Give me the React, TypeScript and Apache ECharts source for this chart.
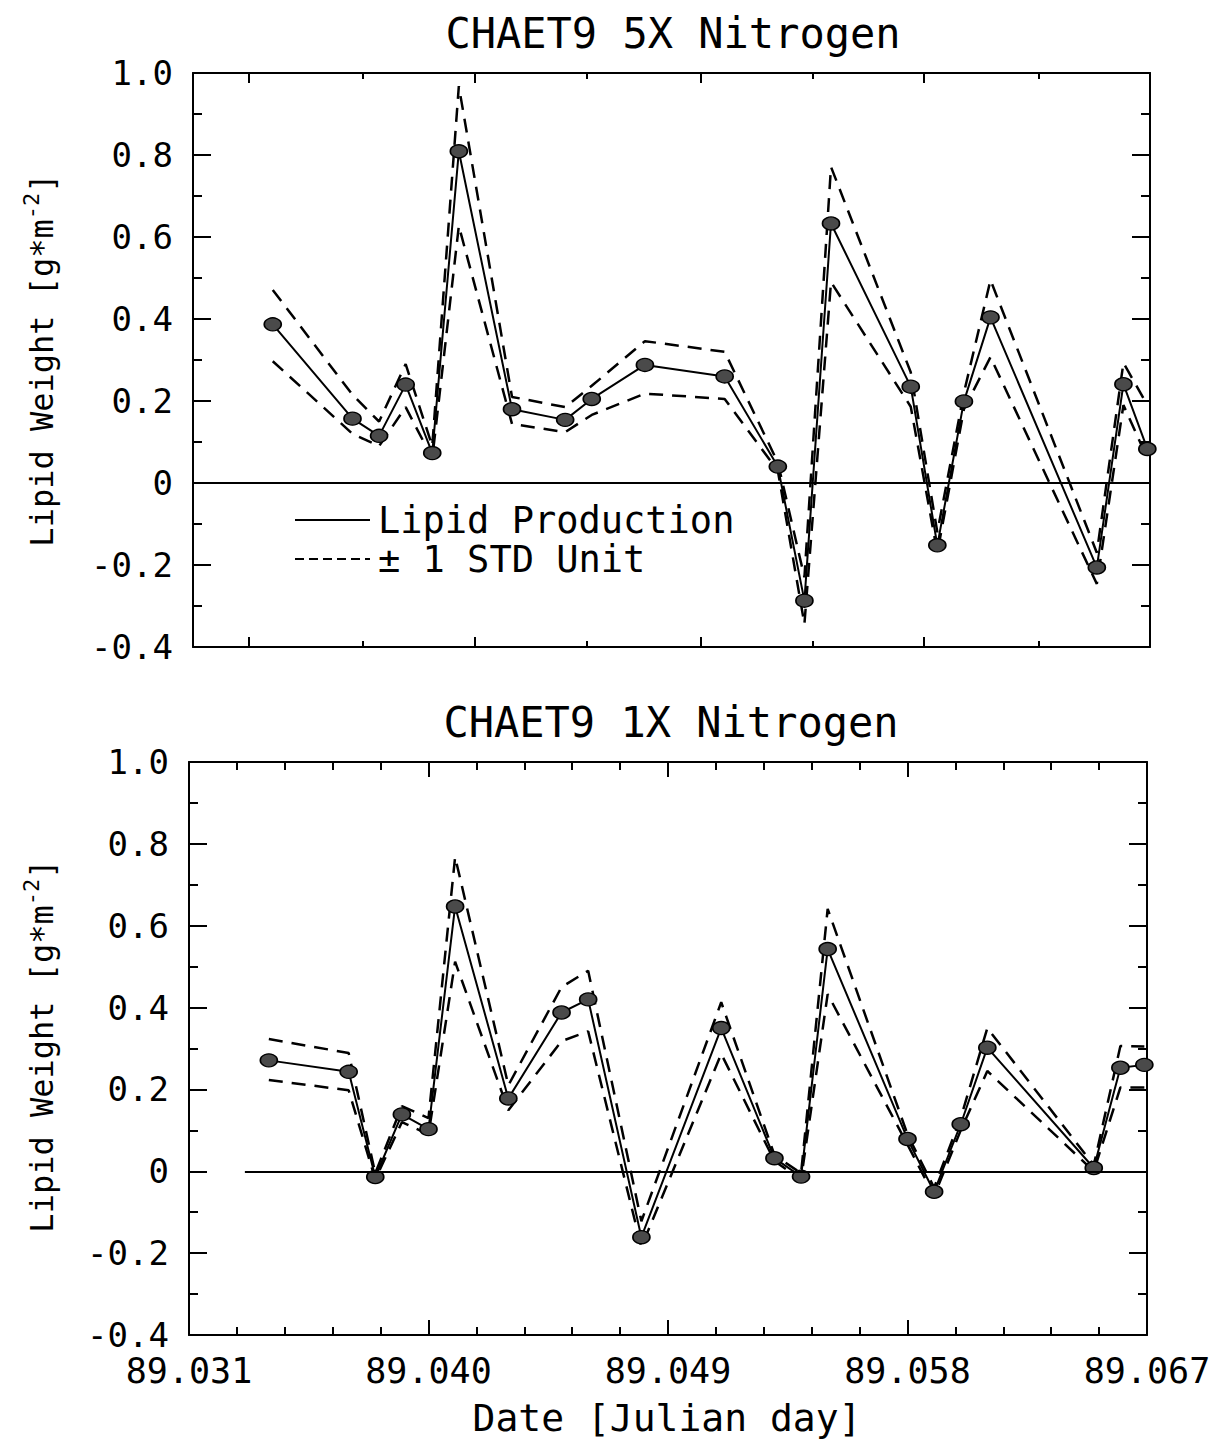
import React, { useEffect, useRef } from "react";
import * as echarts from "echarts";

// Sampling dates (Julian day), shared by both panels
const dates = [89.034, 89.037, 89.038, 89.039, 89.040, 89.041, 89.043, 89.045, 89.046, 89.048, 89.051, 89.053, 89.054, 89.055, 89.058, 89.059, 89.060, 89.061, 89.065, 89.066, 89.0669];

// CHAET9 5X Nitrogen
const lipid5x = [0.387, 0.157, 0.115, 0.24, 0.073, 0.809, 0.18, 0.154, 0.205, 0.288, 0.26, 0.04, -0.287, 0.633, 0.235, -0.152, 0.199, 0.404, -0.206, 0.241, 0.083];
const upper5x = [0.471, 0.215, 0.15, 0.29, 0.09, 0.968, 0.21, 0.185, 0.237, 0.346, 0.32, 0.05, -0.23, 0.771, 0.27, -0.12, 0.22, 0.495, -0.17, 0.293, 0.19];
const lower5x = [0.297, 0.12, 0.09, 0.185, 0.06, 0.627, 0.144, 0.124, 0.166, 0.218, 0.205, 0.03, -0.344, 0.49, 0.186, -0.17, 0.18, 0.307, -0.246, 0.19, 0.06];

// CHAET9 1X Nitrogen
const lipid1x = [0.271, 0.243, -0.014, 0.139, 0.103, 0.647, 0.178, 0.388, 0.42, -0.161, 0.35, 0.032, -0.013, 0.543, 0.079, -0.05, 0.115, 0.302, 0.008, 0.253, 0.26];
const upper1x = [0.323, 0.289, -0.005, 0.159, 0.13, 0.768, 0.21, 0.45, 0.49, -0.122, 0.413, 0.04, -0.005, 0.641, 0.09, -0.04, 0.13, 0.35, 0.015, 0.306, 0.305];
const lower1x = [0.223, 0.198, -0.02, 0.12, 0.09, 0.512, 0.149, 0.318, 0.342, -0.185, 0.287, 0.025, -0.02, 0.433, 0.065, -0.06, 0.1, 0.245, 0.0, 0.205, 0.205];

// Axis ranges and ticks
const xMin = 89.031;
const xMax = 89.067;
const yMin = -0.4;
const yMax = 1.0;
const bottomMajorTicks = [89.031, 89.040, 89.049, 89.058, 89.067];
const topMajorTicks = [89.0331, 89.0416, 89.0501, 89.0585, 89.067];
const topMinorTicks = [89.0374, 89.0458, 89.0543, 89.0628];
const zeroLineStart1x = 89.0331;

const titles = ["CHAET9 5X Nitrogen", "CHAET9 1X Nitrogen"];
const FONT = "DejaVu Sans Mono";

function bottomMinorTicks() {
  const out: number[] = [];
  for (let i = 0; i < bottomMajorTicks.length - 1; i++) {
    const a = bottomMajorTicks[i];
    const b = bottomMajorTicks[i + 1];
    for (let k = 1; k < 5; k++) out.push(+(a + ((b - a) * k) / 5).toFixed(5));
  }
  return out;
}

function xAxesFor(gridIndex: number, major: number[], minor: number[], showLabels: boolean, majLen: number, minLen: number) {
  const base = {
    type: "value",
    gridIndex,
    min: xMin,
    max: xMax,
    splitLine: { show: false },
  };
  const mk = (position: string, ticks: number[], len: number, line: boolean, labels: boolean) => ({
    ...base,
    position,
    axisLine: { show: line, onZero: false, lineStyle: { color: "#000", width: 2 } },
    axisTick: { show: true, inside: true, length: len, customValues: ticks, lineStyle: { color: "#000", width: 2 } },
    axisLabel: labels
      ? {
          show: true,
          customValues: major,
          margin: 18,
          color: "#000",
          fontFamily: FONT,
          fontSize: 35,
          formatter: (v: number) => v.toFixed(3),
        }
      : { show: false },
  });
  return [
    mk("bottom", major, majLen, true, showLabels),
    mk("top", major, majLen, true, false),
    mk("bottom", minor, minLen, false, false),
    mk("top", minor, minLen, false, false),
  ];
}

function yAxesFor(gridIndex: number) {
  const common = {
    type: "value",
    gridIndex,
    min: yMin,
    max: yMax,
    interval: 0.2,
    splitLine: { show: false },
    axisLine: { show: true, onZero: false, lineStyle: { color: "#000", width: 2 } },
    axisTick: { show: true, inside: true, length: 18, lineStyle: { color: "#000", width: 2 } },
    minorTick: { show: true, splitNumber: 2, length: 9, lineStyle: { color: "#000", width: 2 } },
  };
  return [
    {
      ...common,
      position: "left",
      axisLabel: {
        show: true,
        margin: 20,
        color: "#000",
        fontFamily: FONT,
        fontSize: 34,
        formatter: (v: number) => (Math.abs(v) < 1e-9 ? "0" : v.toFixed(1)),
      },
    },
    { ...common, position: "right", axisLabel: { show: false } },
  ];
}

function seriesFor(xIdx: number, yIdx: number, main: number[], up: number[], lo: number[], zeroLine: any) {
  const toPts = (arr: number[]) => dates.map((d, i) => [d, arr[i]]);
  const dash = { color: "#000", width: 2.5, type: [14, 9] };
  return [
    {
      type: "line",
      name: "+1 STD",
      xAxisIndex: xIdx,
      yAxisIndex: yIdx,
      data: toPts(up),
      showSymbol: false,
      symbol: "none",
      lineStyle: dash,
      z: 2,
    },
    {
      type: "line",
      name: "-1 STD",
      xAxisIndex: xIdx,
      yAxisIndex: yIdx,
      data: toPts(lo),
      showSymbol: false,
      symbol: "none",
      lineStyle: dash,
      z: 2,
    },
    {
      type: "line",
      name: "Lipid Production",
      xAxisIndex: xIdx,
      yAxisIndex: yIdx,
      data: toPts(main),
      symbol: "circle",
      symbolSize: [17, 13],
      itemStyle: { color: "#4a4a4a", borderColor: "#000", borderWidth: 1.5 },
      lineStyle: { color: "#000", width: 2 },
      z: 3,
      markLine: {
        silent: true,
        symbol: ["none", "none"],
        label: { show: false },
        lineStyle: { color: "#000", width: 2, type: "solid" },
        data: [zeroLine],
      },
    },
  ];
}

export default function App() {
  const ref = useRef<HTMLDivElement>(null);
  useEffect(() => {
    if (!ref.current) return;
    const chart = echarts.init(ref.current, null, { renderer: "svg" });
    const minorB = bottomMinorTicks();
    const supRich = {
      a: { fontFamily: FONT, fontSize: 32, color: "#000", lineHeight: 44 },
      s: { fontFamily: FONT, fontSize: 22, color: "#000", lineHeight: 22, verticalAlign: "top" },
    };
    const yName = "{a|Lipid Weight [g*m}{s|-2}{a|]}";
    const legendText = { fontFamily: FONT, fontSize: 37, fill: "#000", align: "left", verticalAlign: "middle" };
    const option: any = {
      animation: false,
      backgroundColor: "#fff",
      grid: [
        { left: 193, top: 73, width: 957, height: 574 },
        { left: 189, top: 762, width: 958, height: 573 },
      ],
      xAxis: [
        ...xAxesFor(0, topMajorTicks, topMinorTicks, false, 10, 6),
        ...xAxesFor(1, bottomMajorTicks, minorB, true, 15, 8),
      ],
      yAxis: [...yAxesFor(0), ...yAxesFor(1)],
      series: [
        ...seriesFor(0, 0, lipid5x, upper5x, lower5x, { yAxis: 0 }),
        ...seriesFor(4, 2, lipid1x, upper1x, lower1x, [{ coord: [zeroLineStart1x, 0] }, { coord: [xMax, 0] }]),
      ],
      graphic: [
        { type: "text", x: 673, y: 33, style: { text: titles[0], fontFamily: FONT, fontSize: 42, fill: "#000", align: "center", verticalAlign: "middle" } },
        { type: "text", x: 671, y: 722, style: { text: titles[1], fontFamily: FONT, fontSize: 42, fill: "#000", align: "center", verticalAlign: "middle" } },
        { type: "text", x: 42, y: 360, rotation: Math.PI / 2, style: { text: yName, rich: supRich, align: "center", verticalAlign: "middle" } },
        { type: "text", x: 42, y: 1046, rotation: Math.PI / 2, style: { text: yName, rich: supRich, align: "center", verticalAlign: "middle" } },
        { type: "text", x: 667, y: 1418, style: { text: "Date [Julian day]", fontFamily: FONT, fontSize: 38, fill: "#000", align: "center", verticalAlign: "middle" } },
        { type: "line", shape: { x1: 295, y1: 520, x2: 370, y2: 520 }, style: { stroke: "#000", lineWidth: 2 } },
        { type: "text", x: 378, y: 520, style: { ...legendText, text: "Lipid Production" } },
        { type: "line", shape: { x1: 295, y1: 559, x2: 370, y2: 559 }, style: { stroke: "#000", lineWidth: 2, lineDash: [9, 5] } },
        { type: "text", x: 378, y: 559, style: { ...legendText, text: "± 1 STD Unit" } },
      ],
    };
    chart.setOption(option);
    return () => chart.dispose();
  }, []);
  return (
    <div
      ref={ref}
      style={{ position: "absolute", left: 0, top: 0, width: 1220, height: 1441, background: "#fff" }}
    />
  );
}
